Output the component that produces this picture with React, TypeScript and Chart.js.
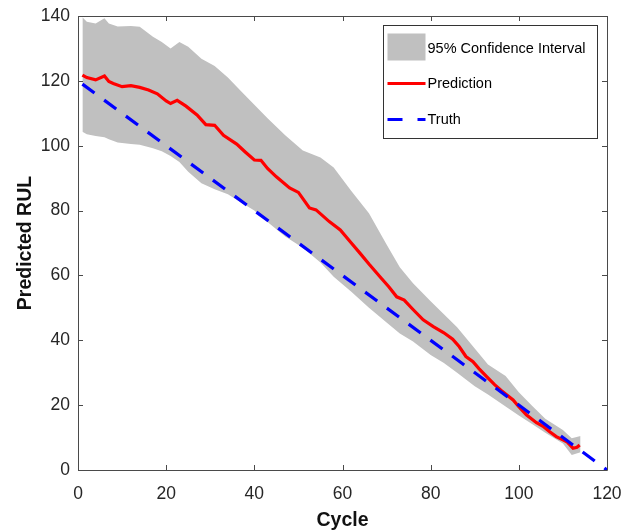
import React, { useEffect, useRef } from "react";
import { Chart, registerables } from "chart.js";

Chart.register(...registerables);

// ---- Data ----
const bandCycles = [1, 2, 4, 6, 7, 9, 12, 14, 17, 19, 21, 23, 25, 28, 31, 34, 37, 40, 43, 47, 51, 55, 58, 62, 66, 70, 73, 76, 80, 83, 86, 90, 93, 97, 100, 103, 106, 110, 112, 114];
const upperCI = [139.6, 138.2, 137.7, 139.3, 137.7, 136.8, 136.9, 136.7, 133.6, 132, 130, 132, 130.5, 126.8, 124.6, 121, 116.8, 112.6, 108.5, 103.2, 98.5, 96.4, 93.3, 86, 79.2, 69.5, 62.5, 57.6, 52, 48, 44, 37.5, 32.5, 29, 24, 19.8, 15.8, 12.3, 9.8, 10.5];
const lowerCI = [104.3, 103.5, 103, 102.6, 102, 101, 100.5, 100.3, 99.2, 98.3, 96.8, 95, 92, 88.4, 86.6, 85, 82.5, 80, 76.5, 72, 68.5, 64, 59.6, 55, 50, 45.5, 42.1, 39.6, 35.5, 33, 30, 25.8, 23.3, 19.6, 16.8, 14.2, 11.5, 8.2, 4.6, 5.5];

const predCycles = [1, 2, 4, 6, 7, 8, 10, 12, 14, 16, 18, 20, 21, 22.5, 24.5, 27, 29, 31, 33, 36, 38, 40, 41.5, 43, 45, 48, 50, 52.5, 54, 57, 59.5, 62, 64, 66, 68.5, 70.5, 72.3, 74, 76, 78.3, 80.6, 83, 85, 86.5, 88, 89.6, 91, 92.7, 94.5, 96, 98.7, 100, 101.7, 104, 105.5, 107, 108.5, 110, 111, 112.3, 113.2, 113.8];
const predValues = [121.8, 121, 120.3, 121.5, 119.8, 119.2, 118.2, 118.5, 118, 117.2, 116, 113.8, 113, 114, 112.2, 109.5, 106.5, 106.3, 103.2, 100.5, 98, 95.6, 95.5, 93, 90.4, 87, 85.6, 80.8, 80.2, 76.6, 74, 70, 66.8, 63.5, 59.6, 56.5, 53.4, 52.4, 49.5, 46.3, 44.2, 42.3, 40.3, 38, 35, 33.4, 31.2, 28.8, 26.3, 24.5, 21.6, 19.5, 17, 14.6, 13.5, 11.8, 10.3, 9.3, 8.6, 6.7, 7, 7.7];

const truthCycles = [1, 120];
const truthValues = [119, 0];

const legendLabels = ["95% Confidence Interval", "Prediction", "Truth"];
const xTitle = "Cycle";
const yTitle = "Predicted RUL";

const FONT = "'Liberation Sans', Arial, Helvetica, sans-serif";
const GRAY = "#c0c0c0";
const RED = "#ff0000";
const BLUE = "#0000ff";
const AXIS = "#4a4a4a";
const TEXT = "#262626";

const zip = (xs: number[], ys: number[]) => xs.map((x, i) => ({ x, y: ys[i] }));

const frame = {
  id: "matlabFrame",
  afterDatasetsDraw(chart: any) {
    const { ctx, chartArea: a, scales } = chart;
    const xs = scales.x;
    const ys = scales.y;
    ctx.save();
    ctx.strokeStyle = AXIS;
    ctx.lineWidth = 1;
    ctx.beginPath();
    ctx.rect(Math.round(a.left) + 0.5, Math.round(a.top) + 0.5, Math.round(a.right - a.left), Math.round(a.bottom - a.top));
    ctx.stroke();
    const tl = 5;
    ctx.beginPath();
    xs.ticks.forEach((t: any) => {
      const px = Math.round(xs.getPixelForValue(t.value)) + 0.5;
      ctx.moveTo(px, a.bottom);
      ctx.lineTo(px, a.bottom - tl);
      ctx.moveTo(px, a.top);
      ctx.lineTo(px, a.top + tl);
    });
    ys.ticks.forEach((t: any) => {
      const py = Math.round(ys.getPixelForValue(t.value)) + 0.5;
      ctx.moveTo(a.left, py);
      ctx.lineTo(a.left + tl, py);
      ctx.moveTo(a.right, py);
      ctx.lineTo(a.right - tl, py);
    });
    ctx.stroke();
    ctx.restore();
  },
  afterDraw(chart: any) {
    const { ctx, chartArea: a } = chart;
    // legend box in top-right corner
    const bx = Math.round(a.right - 224) + 0.5;
    const by = Math.round(a.top + 9) + 0.5;
    const bw = 214;
    const bh = 113;
    ctx.save();
    ctx.fillStyle = "#ffffff";
    ctx.fillRect(bx, by, bw, bh);
    ctx.strokeStyle = "#333333";
    ctx.lineWidth = 1;
    ctx.strokeRect(bx, by, bw, bh);
    const sx = bx + 4;
    const sw = 38;
    // CI patch
    ctx.fillStyle = GRAY;
    ctx.fillRect(sx, by + 8, sw, 27);
    // prediction line
    ctx.strokeStyle = RED;
    ctx.lineWidth = 3;
    ctx.beginPath();
    ctx.moveTo(sx, by + 58);
    ctx.lineTo(sx + sw, by + 58);
    ctx.stroke();
    // truth dashed
    ctx.strokeStyle = BLUE;
    ctx.setLineDash([15, 15]);
    ctx.beginPath();
    ctx.moveTo(sx, by + 94);
    ctx.lineTo(sx + sw, by + 94);
    ctx.stroke();
    ctx.setLineDash([]);
    ctx.fillStyle = "#000000";
    ctx.font = `14.5px ${FONT}`;
    ctx.textBaseline = "middle";
    ctx.textAlign = "left";
    const tx = sx + sw + 2;
    ctx.fillText(legendLabels[0], tx, by + 23.5);
    ctx.fillText(legendLabels[1], tx, by + 58.5);
    ctx.fillText(legendLabels[2], tx, by + 94.5);
    ctx.restore();
  },
};

export default function App() {
  const ref = useRef<HTMLCanvasElement | null>(null);
  useEffect(() => {
    if (!ref.current) return;
    const chart = new Chart(ref.current, {
      type: "line",
      data: {
        datasets: [
          {
            label: "lower",
            data: zip(bandCycles, lowerCI),
            borderWidth: 0,
            borderColor: "rgba(0,0,0,0)",
            pointRadius: 0,
            fill: false,
            tension: 0,
            order: 3,
          },
          {
            label: legendLabels[0],
            data: zip(bandCycles, upperCI),
            borderWidth: 0,
            borderColor: "rgba(0,0,0,0)",
            backgroundColor: GRAY,
            pointRadius: 0,
            fill: "-1",
            tension: 0,
            order: 2,
          },
          {
            label: legendLabels[1],
            data: zip(predCycles, predValues),
            borderColor: RED,
            borderWidth: 3.2,
            pointRadius: 0,
            fill: false,
            tension: 0,
            order: 1,
          },
          {
            label: legendLabels[2],
            data: zip(truthCycles, truthValues),
            borderColor: BLUE,
            borderWidth: 3.2,
            borderDash: [15, 12],
            pointRadius: 0,
            fill: false,
            tension: 0,
            order: 0,
          },
        ],
      },
      options: {
        animation: false,
        responsive: false,
        devicePixelRatio: 1,
        layout: { padding: { top: 16, right: 15, left: 0, bottom: 0 } },
        plugins: {
          legend: { display: false },
          tooltip: { enabled: false },
          filler: { propagate: false },
        },
        scales: {
          x: {
            type: "linear",
            min: 0,
            max: 120,
            grid: { display: false, drawTicks: false },
            border: { display: false },
            ticks: { stepSize: 20, padding: 14, color: TEXT, font: { family: FONT, size: 17.5 } },
            title: { display: true, text: xTitle, color: "#111", font: { family: FONT, size: 19.5, weight: "bold", lineHeight: 1.1 }, padding: { top: 0, bottom: 0 } },
            afterFit: (s: any) => { s.height = 61; s.paddingLeft = 0; s.paddingRight = 0; },
          },
          y: {
            type: "linear",
            min: 0,
            max: 140,
            grid: { display: false, drawTicks: false },
            border: { display: false },
            ticks: { stepSize: 20, padding: 8, color: TEXT, font: { family: FONT, size: 17.5 } },
            title: { display: true, text: yTitle, color: "#111", font: { family: FONT, size: 19.5, weight: "bold" }, padding: { top: 14, bottom: 0 } },
            afterFit: (s: any) => { s.width = 78; s.paddingTop = 0; s.paddingBottom = 0; },
          },
        },
      },
      plugins: [frame],
    } as any);
    return () => chart.destroy();
  }, []);
  return (
    <div style={{ position: "absolute", left: 0, top: 0, width: 622, height: 531, background: "#fff" }}>
      <canvas ref={ref} width={622} height={531} style={{ display: "block", width: 622, height: 531 }} />
    </div>
  );
}
